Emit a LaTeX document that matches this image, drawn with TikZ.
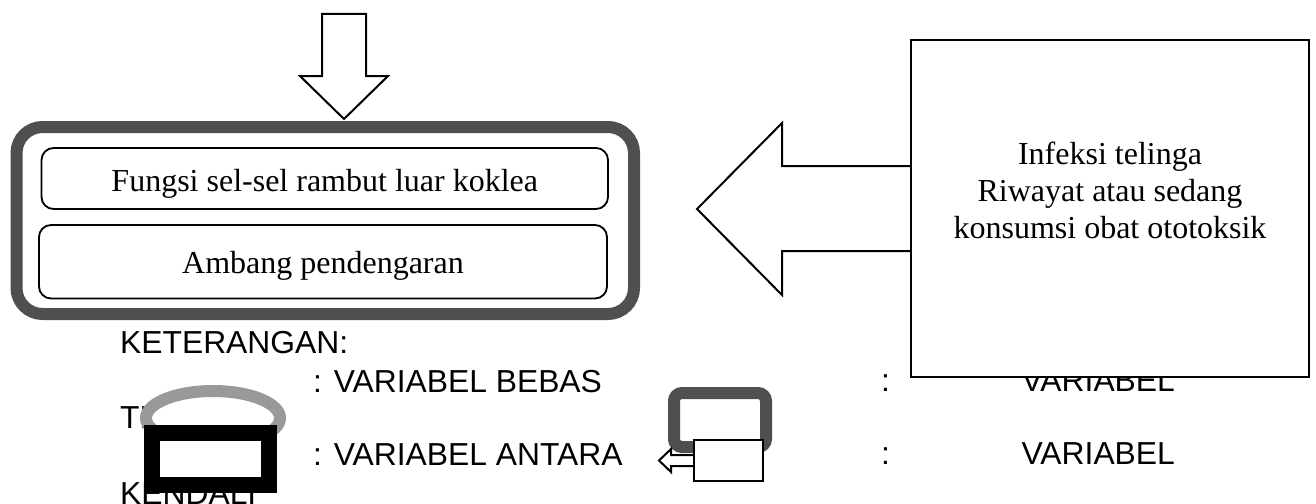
\documentclass[tikz,border=0pt]{standalone}
\usepackage{fontspec}
\usetikzlibrary{shapes.geometric}
\setmainfont{Liberation Serif}
\setsansfont{Liberation Sans}
\definecolor{framegray}{HTML}{4F4F4F}
\definecolor{ringgray}{HTML}{999999}
\begin{document}
\begin{tikzpicture}[x=1pt,y=-1pt,
  serif/.style={font=\fontsize{32}{37}\selectfont, inner sep=0pt, anchor=base},
  legendtext/.style={font=\sffamily\fontsize{31.8}{36}\selectfont, inner sep=0pt},
  outline/.style={draw=black, line width=2pt, fill=white},
  varbox/.style={draw=black, line width=1.8pt, rounded corners=12pt, fill=white},
  groupframe/.style={draw=framegray, line width=12pt, rounded corners=26pt, fill=white},
]
\useasboundingbox (0,0) rectangle (1316,503);
\clip (0,0) rectangle (1316,503);

% ---------- legend texts (partly covered by the symbols drawn later)
\node[legendtext, anchor=base west] (ket) at (120,353) {KETERANGAN:};
\node[legendtext, anchor=base west] (bebas) at (313,392) {: VARIABEL BEBAS};
\node[legendtext, anchor=base west] (colA) at (881,391) {:};
\node[legendtext, anchor=base east] (terikatA) at (1175,391) {VARIABEL};
\node[legendtext, anchor=base west] (terikatB) at (120,428) {TERIKAT};
\node[legendtext, anchor=base west] (antara) at (313,465) {: VARIABEL ANTARA};
\node[legendtext, anchor=base west] (colB) at (881,464) {:};
\node[legendtext, anchor=base east] (kendaliA) at (1175,464) {VARIABEL};
\node[legendtext, anchor=base west] (kendaliB) at (120,504) {KENDALI};

% ---------- down block arrow into the group
\draw[outline] (322,14) -- (366,14) -- (366,76) -- (388,76) -- (344,119)
  -- (300,76) -- (322,76) -- cycle;

% ---------- group of dependent variables
\node[groupframe, minimum width=617.5pt, minimum height=187pt] (group) at (325.25,220.5) {};
\node[varbox, minimum width=566.5pt, minimum height=61pt] (v1) at (324.75,178.5) {};
\node[varbox, minimum width=568pt, minimum height=73.5pt] (v2) at (323,261.75) {};
\node[serif] (v1t) at (324.75,191) {Fungsi sel-sel rambut luar koklea};
\node[serif] (v2t) at (323,273) {Ambang pendengaran};

% ---------- left block arrow from the control variables
\coordinate (shaftTop) at (912,166);
\coordinate (shaftBot) at (912,251);
\draw[draw=black, line width=2pt, fill=white] (shaftTop) -- (782,166) -- (782,123) -- (697,209)
  -- (782,295) -- (782,251) -- (shaftBot);
\node[outline, minimum width=398pt, minimum height=337pt] (ctrl) at (1110,208.5) {};
\node[serif] (c1) at (1110,164) {Infeksi telinga};
\node[serif] (c2) at (1110,201) {Riwayat atau sedang};
\node[serif] (c3) at (1110,238) {konsumsi obat ototoksik};

% ---------- legend symbols
\node[draw=ringgray, line width=12pt, fill=white, ellipse, minimum width=134pt,
      minimum height=54pt, inner sep=0pt] (ring) at (213,418) {};
\node[draw=black, line width=16pt, fill=white, minimum width=117pt,
      minimum height=51.5pt, inner sep=0pt] (thick) at (210.5,458.75) {};

\node[draw=framegray, line width=12pt, rounded corners=8pt, fill=white,
      minimum width=92pt, minimum height=54pt, inner sep=0pt] (mini) at (720,420) {};
\draw[draw=black, line width=2pt, fill=white] (694,455) -- (671,455) -- (671,449) -- (659,460.5)
  -- (671,472) -- (671,466) -- (694,466);
\node[outline, minimum width=69pt, minimum height=41pt, inner sep=0pt] (minibox) at (728.5,460.5) {};
\end{tikzpicture}
\end{document}
